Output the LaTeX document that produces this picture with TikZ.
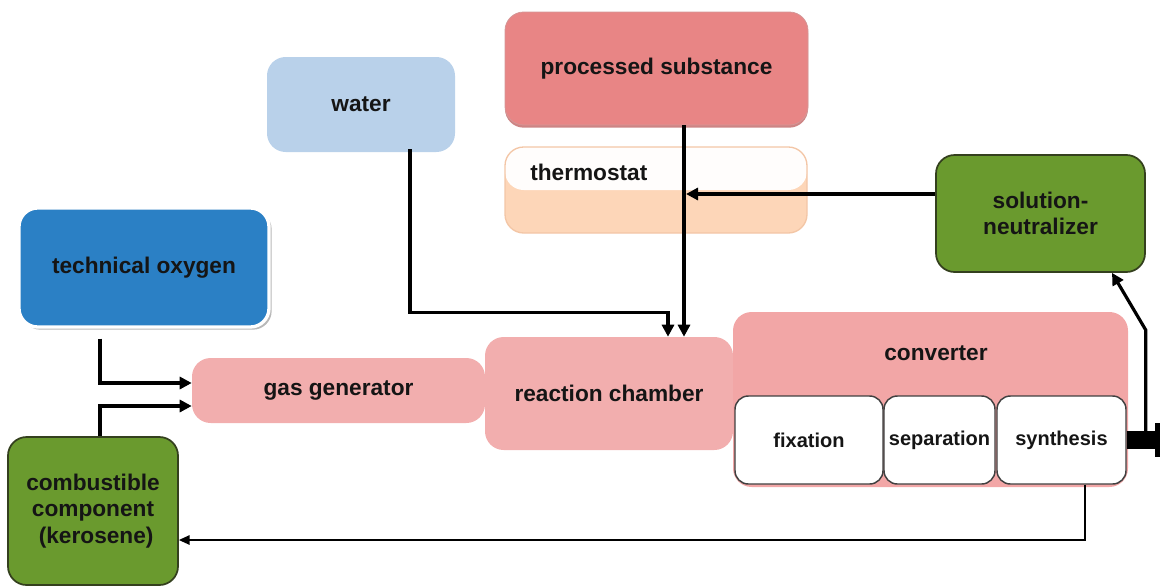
\documentclass[tikz,border=0pt]{standalone}
\usepackage{fontspec}
\setmainfont{Liberation Sans}
\usetikzlibrary{calc,arrows.meta,shadows}
\definecolor{waterc}{HTML}{B9D1EA}
\definecolor{procc}{HTML}{E88585}
\definecolor{procb}{HTML}{B85050}
\definecolor{peach}{HTML}{FDD6B8}
\definecolor{peachb}{HTML}{F3C6A6}
\definecolor{greenc}{HTML}{6A9A2E}
\definecolor{greenb}{HTML}{34401E}
\definecolor{oxyc}{HTML}{2B80C5}
\definecolor{pinkc}{HTML}{F2AEAE}
\definecolor{convc}{HTML}{F2A6A6}
\definecolor{txt}{HTML}{151515}
\tikzset{
  box/.style={rectangle, rounded corners=14pt, inner sep=0pt, align=center,
    text=txt, font=\bfseries\fontsize{17}{20}\selectfont},
  subbox/.style={box, rounded corners=10pt, fill=white, draw=black!75, line width=1.1pt,
    font=\bfseries\fontsize{15}{18}\selectfont},
  arr/.style={line width=2.4pt, -{Triangle[length=9pt,width=9pt]}},
  thinarr/.style={line width=1.1pt, -{Triangle[length=8pt,width=7pt]}},
}
\begin{document}
\begin{tikzpicture}[x=0.75pt,y=-0.75pt]
\useasboundingbox (0,0) rectangle (1160,586);
% boxes
\node[box, fill=waterc, minimum width=188*0.75pt, minimum height=95*0.75pt] (water) at (361,104.5) {water};
\node[box, fill=procc, draw=procb!60, line width=0.6pt, drop shadow={shadow xshift=0pt, shadow yshift=-2pt, fill=procb, opacity=0.7},
  minimum width=303*0.75pt, minimum height=113*0.75pt] (proc) at (656.5,68.5) {processed substance};
\node[box, fill=peach, draw=peachb, line width=1pt, minimum width=302*0.75pt, minimum height=86*0.75pt,
  path picture={\fill[white!96!peach] (path picture bounding box.north west) rectangle ([yshift=-43*0.75pt]path picture bounding box.north east);}] (thermo) at (656,190) {};
\node[box, anchor=west] (thermotext) at (530,172) {thermostat};
\node[box, fill=greenc, draw=greenb, line width=1.3pt, minimum width=209*0.75pt, minimum height=117*0.75pt] (solneu) at (1040.5,213.5) {solution-\\neutralizer};
\node[box, fill=oxyc, draw=white, line width=2.5pt, drop shadow={shadow xshift=2pt, shadow yshift=-2pt, fill=black!35, opacity=0.8},
  minimum width=250*0.75pt, minimum height=119*0.75pt] (oxy) at (144,267.5) {technical oxygen};
\node[box, fill=pinkc, minimum width=293*0.75pt, minimum height=65*0.75pt] (gasgen) at (338.5,390.5) {gas generator};
\node[box, fill=pinkc, minimum width=248*0.75pt, minimum height=113*0.75pt] (reaction) at (609,393.5) {reaction chamber};
\node[box, fill=convc, minimum width=395*0.75pt, minimum height=175*0.75pt] (converter) at (930.5,399.5) {};
\node[box] (convtext) at (936,353) {converter};
\node[subbox, minimum width=148*0.75pt, minimum height=88*0.75pt] (fixation) at (809,440) {fixation};
\node[subbox, minimum width=111*0.75pt, minimum height=88*0.75pt] (separation) at (939.5,440) {separation};
\node[subbox, minimum width=129*0.75pt, minimum height=88*0.75pt] (synthesis) at (1061.5,440) {synthesis};
\node[box, fill=greenc, draw=greenb, line width=1.3pt, minimum width=170*0.75pt, minimum height=148*0.75pt] (kero) at (93,511) {combustible\\component\\\ (kerosene)};
% connectors
\draw[arr] ($(oxy.south)+(-44,10)$) |- ($(gasgen.west)+(0,-7.5)$);
\draw[arr] ($(kero.north)+(7,0)$) |- ($(gasgen.west)+(0,15.5)$);
\coordinate (wt) at ($(reaction.north)+(59,0)$);
\draw[arr] ($(water.south)+(49,-3)$) |- ($(wt)+(0,-24)$) -- (wt);
\coordinate (pl) at ($(proc.south)+(27.5,0)$);
\draw[arr] (pl) -- ($(reaction.north)+(75,0)$);
\coordinate (s1) at ($(solneu.west)+(0,-19.5)$);
\coordinate (pl2) at ($(pl)+(2,0)$);
\draw[arr] (s1) -- (s1 -| pl2);
\draw[thinarr] ($(synthesis.south)+(23.5,0)$) |- ($(kero.east)+(0,29)$);
\coordinate (barend) at (1160,440);
\draw[line width=14pt] (synthesis.east) -- (barend);
\fill ($(barend)+(-5,-17)$) rectangle ($(barend)+(0,17)$);
\coordinate (bar) at ($(synthesis.east)+(19,0)$);
\draw[arr, line join=miter] (bar) -- ++(0,-110) -- ($(solneu.south)+(71.5,0)$);
\end{tikzpicture}
\end{document}
